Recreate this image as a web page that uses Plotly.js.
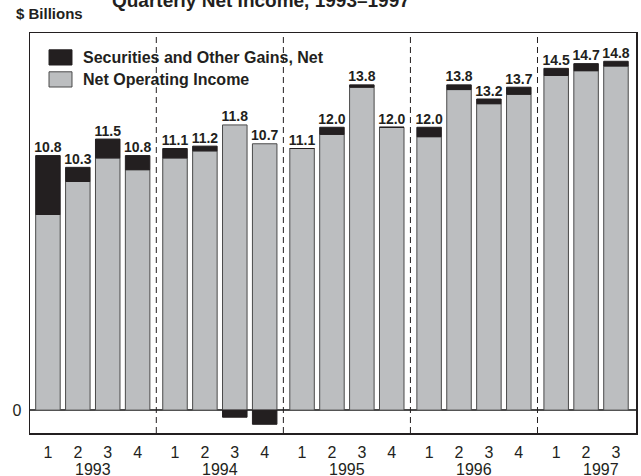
<!DOCTYPE html>
<html>
<head>
<meta charset="utf-8">
<script src="https://cdn.plot.ly/plotly-3.0.1.min.js"></script>
<style>
html,body{margin:0;padding:0;background:#fff;}
#chart{width:641px;height:476px;}
</style>
</head>
<body>
<div id="chart"></div>
<script>
// ---- data ----
var years = ['1993','1994','1995','1996','1997'];
var quarters = ['1','2','3','4','1','2','3','4','1','2','3','4','1','2','3','4','1','2','3'];
var yearOfBar = [0,0,0,0,1,1,1,1,2,2,2,2,3,3,3,3,4,4,4];
var netOperatingIncome = [8.3,9.7,10.7,10.2, 10.7,11.0,12.1,11.3, 11.1,11.7,13.7,12.0, 11.6,13.6,13.0,13.4, 14.2,14.4,14.6];
var securitiesGains   = [2.5,0.6,0.8,0.6, 0.4,0.2,-0.3,-0.6, 0.0,0.3,0.1,0.0, 0.4,0.2,0.2,0.3, 0.3,0.3,0.2];
var totalLabels = ['10.8','10.3','11.5','10.8','11.1','11.2','11.8','10.7','11.1','12.0','13.8','12.0','12.0','13.8','13.2','13.7','14.5','14.7','14.8'];
var seriesNames = ['Securities and Other Gains, Net', 'Net Operating Income'];

// ---- layout helpers (positions on a numeric axis with a gap between years) ----
var YEAR_GAP = 0.25;
var xpos = quarters.map(function(q, i){ return i + YEAR_GAP * yearOfBar[i]; });
var labelY = netOperatingIncome.map(function(v, i){ return Math.max(v, v + securitiesGains[i]); });

var FONT = 'Liberation Sans, Arial, Helvetica, sans-serif';
var GRAY = '#bcbec0', BLACK = '#231f20', EDGE = '#4a4a4a', INK = '#231f20';

var traces = [
  {type:'bar', name:seriesNames[1], x:xpos, y:netOperatingIncome, width:0.82,
   marker:{color:GRAY, line:{color:EDGE, width:1}}, hoverinfo:'skip', showlegend:false},
  {type:'bar', name:seriesNames[0], x:xpos, y:securitiesGains, width:0.82,
   marker:{color:BLACK, line:{color:BLACK, width:1}}, hoverinfo:'skip', showlegend:false},
  {type:'scatter', mode:'text', x:xpos, y:labelY, text:totalLabels, textposition:'top center',
   textfont:{family:FONT, size:14, color:INK, weight:'bold'}, showlegend:false, hoverinfo:'skip'}
];

// separators and year labels
var shapes = [], annotations = [];
for (var y = 0; y < years.length; y++) {
  var idx = [];
  for (var i = 0; i < xpos.length; i++) if (yearOfBar[i] === y) idx.push(xpos[i]);
  var first = idx[0];
  annotations.push({x:first + 1.5, xref:'x', y:0, yref:'paper',
    yshift:-36, text:years[y], showarrow:false, yanchor:'middle',
    font:{family:FONT, size:16, color:INK}});
  if (y > 0) {
    var prevLast = xpos[xpos.indexOf(first) - 1];
    shapes.push({type:'line', xref:'x', yref:'paper', x0:(prevLast+first)/2, x1:(prevLast+first)/2, y0:0, y1:1,
      line:{color:INK, width:1, dash:'6px,4px'}});
  }
}

// legend (drawn manually for larger swatches)
var legendColors = [BLACK, GRAY];
var legendBoxes = [[0.920, 0.958], [0.865, 0.903]];
for (var k = 0; k < seriesNames.length; k++) {
  shapes.push({type:'rect', xref:'paper', yref:'paper', x0:0.0314, x1:0.0693,
    y0:legendBoxes[k][0], y1:legendBoxes[k][1], fillcolor:legendColors[k],
    line:{color:k === 0 ? BLACK : EDGE, width:1}});
  annotations.push({x:0.0842, xref:'paper', y:(legendBoxes[k][0]+legendBoxes[k][1])/2, yref:'paper',
    xanchor:'left', yanchor:'middle', text:'<b>' + seriesNames[k] + '</b>', showarrow:false,
    font:{family:FONT, size:16, color:INK}});
}

annotations.push({x:-0.027, xref:'paper', y:1.048, yref:'paper', xanchor:'left', yanchor:'middle',
  text:'<b>$ Billions</b>', showarrow:false, font:{family:FONT, size:15, color:INK}});

var layout = {
  width:641, height:476,
  margin:{l:30, r:5, t:33, b:43},
  paper_bgcolor:'#fff', plot_bgcolor:'#fff',
  barmode:'relative',
  showlegend:false,
  title:{text:'<b>Quarterly Net Income, 1993–1997</b>', x:0.407, xref:'container', xanchor:'center',
         y:0.986, yref:'container', yanchor:'bottom', font:{family:FONT, size:19, color:INK}},
  xaxis:{range:[-0.6, 19.67], tickvals:xpos, ticktext:quarters, showgrid:false, zeroline:false,
         showline:true, mirror:true, linecolor:INK, linewidth:1.5, ticks:'', ticklabelstandoff:4,
         tickfont:{family:FONT, size:16, color:INK}, fixedrange:true},
  yaxis:{range:[-0.97, 16.0], tickvals:[0], ticktext:['0'], showgrid:false, zeroline:true,
         zerolinecolor:EDGE, zerolinewidth:1.5,
         showline:true, mirror:true, linecolor:INK, linewidth:1.5, ticks:'', ticklabelstandoff:4,
         tickfont:{family:FONT, size:16, color:INK}, fixedrange:true},
  shapes:shapes,
  annotations:annotations
};

Plotly.newPlot('chart', traces, layout, {staticPlot:true});
</script>
</body>
</html>
